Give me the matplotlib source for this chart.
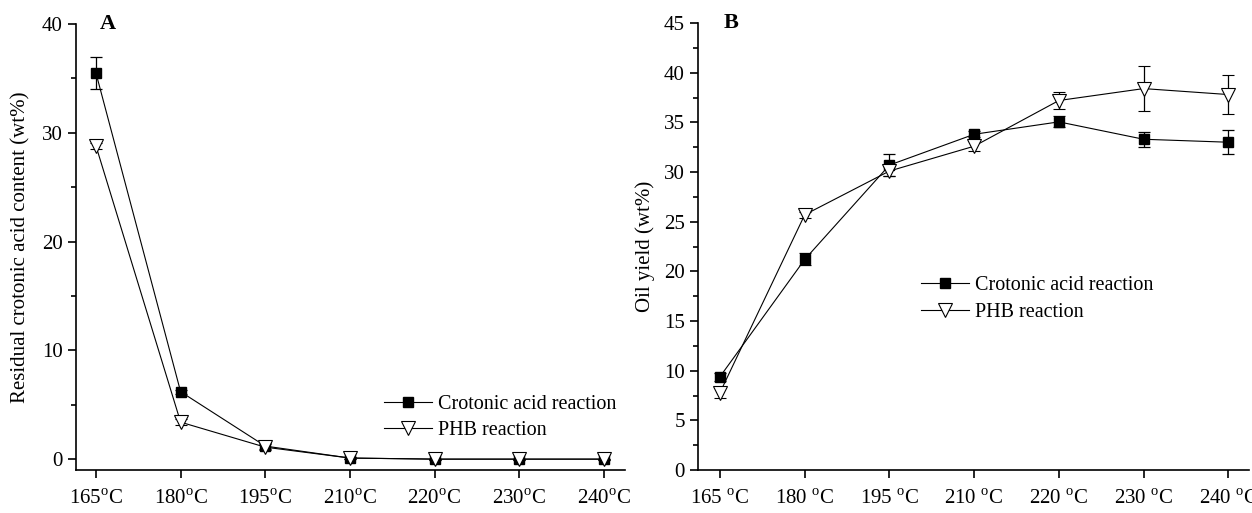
import matplotlib
matplotlib.use("Agg")
import matplotlib.pyplot as plt
from matplotlib.ticker import MultipleLocator
from matplotlib.lines import Line2D
import numpy as np

plt.rcParams['font.family'] = ['Liberation Serif', 'DejaVu Serif']
plt.rcParams['mathtext.fontset'] = 'custom'
plt.rcParams['mathtext.rm'] = 'Liberation Serif'

temps = ["165", "180", "195", "210", "220", "230", "240"]
labels_a = [t + "$^{\\mathrm{o}}$C" for t in temps]
labels_b = [t + " $^{\\mathrm{o}}$C" for t in temps]

# Panel A: residual crotonic acid content (wt%)
a_crot = [35.5, 6.2, 1.2, 0.1, 0.0, 0.0, 0.0]
a_crot_err = [1.5, 0.2, 0.3, 0.1, 0.05, 0.05, 0.05]
a_phb = [28.8, 3.4, 1.1, 0.1, 0.0, 0.0, 0.0]
a_phb_err = [0.3, 0.3, 0.3, 0.1, 0.05, 0.05, 0.05]

# Panel B: oil yield (wt%)
b_crot = [9.4, 21.2, 30.7, 33.8, 35.05, 33.3, 33.0]
b_crot_err = [0.4, 0.6, 1.1, 0.3, 0.55, 0.75, 1.2]
b_phb = [7.8, 25.7, 30.1, 32.6, 37.2, 38.4, 37.8]
b_phb_err = [0.5, 0.3, 0.5, 0.5, 0.9, 2.3, 2.0]

series_names = ['Crotonic acid reaction', 'PHB reaction']

fig = plt.figure(figsize=(12.52, 5.13), dpi=100)
axA = fig.add_axes([0.0607, 0.0838, 0.4385, 0.8692])
axB = fig.add_axes([0.5575, 0.0838, 0.4405, 0.8713])

x = np.arange(len(temps))

crot_style = dict(color='black', lw=0.8, marker='s', ms=7, mfc='black', mec='black')
phb_style = dict(color='black', lw=0.8, marker='v', ms=10, mfc='white', mec='black', mew=0.8)

def draw(ax, c, ce, p, pe):
    ax.errorbar(x, c, yerr=ce, capsize=4, elinewidth=0.9, capthick=0.9,
                zorder=3, **crot_style)
    ax.errorbar(x, p, yerr=pe, capsize=4, elinewidth=0.9, capthick=0.9,
                zorder=3, **phb_style)
    for s in ['top', 'right']:
        ax.spines[s].set_visible(False)
    for s in ['left', 'bottom']:
        ax.spines[s].set_linewidth(1.2)
    ax.set_xticks(x)
    ax.tick_params(axis='both', which='major', direction='out', length=6,
                   width=1.2, labelsize=15)
    ax.tick_params(axis='x', which='major', pad=8)
    ax.tick_params(axis='y', which='minor', direction='out', length=3.5, width=1.2)

handles = [Line2D([], [], **crot_style), Line2D([], [], **phb_style)]

draw(axA, a_crot, a_crot_err, a_phb, a_phb_err)
axA.set_xlim(-0.236, 6.25)
axA.set_ylim(-1.0, 40)
axA.yaxis.set_minor_locator(MultipleLocator(5))
axA.set_yticks([0, 10, 20, 30, 40])
axA.set_xticklabels(labels_a)
axA.set_ylabel('Residual crotonic acid content (wt%)', fontsize=15, labelpad=8)
axA.text(0.04, 40, 'A', fontsize=16, fontweight='bold', va='center', ha='left')
axA.legend(handles, series_names, loc='lower left', bbox_to_anchor=(0.535, 0.035),
           frameon=False, fontsize=14.5, handlelength=2.4, handletextpad=0.3,
           labelspacing=0.35, borderpad=0.2)

draw(axB, b_crot, b_crot_err, b_phb, b_phb_err)
axB.set_xlim(-0.26, 6.25)
axB.set_ylim(0, 45)
axB.yaxis.set_major_locator(MultipleLocator(5))
axB.yaxis.set_minor_locator(MultipleLocator(2.5))
axB.set_xticklabels(labels_b)
axB.set_ylabel('Oil yield (wt%)', fontsize=15, labelpad=6)
axB.text(0.04, 45, 'B', fontsize=16, fontweight='bold', va='center', ha='left')
axB.legend(handles, series_names, loc='lower left', bbox_to_anchor=(0.378, 0.30),
           frameon=False, fontsize=14.5, handlelength=2.4, handletextpad=0.3,
           labelspacing=0.4, borderpad=0.2)

fig.savefig('out.png', dpi=100)
